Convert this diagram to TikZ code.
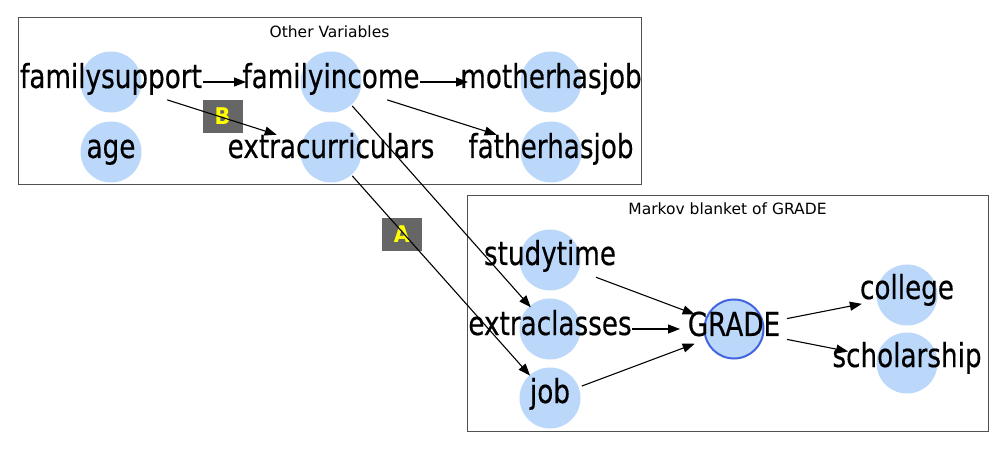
\documentclass[tikz,border=0pt]{standalone}
\usepackage{fontspec}
\usetikzlibrary{arrows.meta}
\newfontfamily\nodefont[FakeStretch=0.795,FakeBold=0.4]{DejaVu Sans}
\newfontfamily\titlefont{DejaVu Sans}
\newfontfamily\tagfont[FakeStretch=0.9]{DejaVu Sans}
\definecolor{nodeblue}{RGB}{187,216,251}
\definecolor{gradeedge}{RGB}{66,100,222}
\definecolor{boxgray}{RGB}{80,80,80}
\definecolor{tagfill}{RGB}{102,102,102}
\definecolor{tagtext}{RGB}{255,255,0}
\begin{document}
\begin{tikzpicture}[x=1pt,y=-1pt,
  bubble/.style={circle,fill=nodeblue,minimum size=61pt,inner sep=0pt},
  gradebubble/.style={bubble,draw=gradeedge,line width=2pt,minimum size=59pt},
  lab/.style={anchor=base,inner sep=0pt,font=\nodefont\fontsize{33}{33}\selectfont},
  groupbox/.style={draw=boxgray,line width=1.3pt},
  grouptitle/.style={anchor=base,inner sep=0pt,font=\titlefont\fontsize{15.5}{16}\selectfont},
  tag/.style={fill=tagfill,minimum width=40pt,minimum height=33pt,inner sep=0pt,text=tagtext,font=\tagfont\bfseries\fontsize{23}{23}\selectfont},
  edge/.style={draw=black,line width=1.1pt,-{Triangle[length=12pt,width=9pt]}}]
\useasboundingbox (0,0) rectangle (1005,449);
% group boxes
\node[groupbox,minimum width=623pt,minimum height=167pt,inner sep=0pt,anchor=north west] (boxtop) at (18,17) {};
\node[groupbox,minimum width=521pt,minimum height=236pt,inner sep=0pt,anchor=north west] (boxbot) at (467,195) {};
\node[grouptitle] (ttop) at (329.5,38) {Other Variables};
\node[grouptitle] (tbot) at (727.5,215) {Markov blanket of GRADE};
% circles
\node[bubble] (fsC) at (111,82) {};
\node[bubble] (agC) at (111,152) {};
\node[bubble] (fiC) at (331,82) {};
\node[bubble] (ecC) at (331,152) {};
\node[bubble] (mjC) at (551,82) {};
\node[bubble] (fjC) at (551,152) {};
\node[bubble] (stC) at (550,260) {};
\node[bubble] (xcC) at (550,329) {};
\node[bubble] (jbC) at (550,398) {};
\node[gradebubble] (grC) at (734,329) {};
\node[bubble] (coC) at (907,295) {};
\node[bubble] (scC) at (907,363) {};
% labels
\node[lab] (fs) at (111,88) {familysupport};
\node[lab] (ag) at (111,158) {age};
\node[lab] (fi) at (331,88) {familyincome};
\node[lab] (ec) at (331,158) {extracurriculars};
\node[lab] (mj) at (551,88) {motherhasjob};
\node[lab] (fj) at (551,158) {fatherhasjob};
\node[lab] (st) at (550,265) {studytime};
\node[lab] (xc) at (550,335) {extraclasses};
\node[lab] (jb) at (550,403) {job};
\node[lab] (gr) at (734,336) {GRADE};
\node[lab] (co) at (907,299) {college};
\node[lab] (sc) at (907,367) {scholarship};
% tags
\node[tag] (tagB) at (222.5,116.5) {B};
\node[tag] (tagA) at (402,234.5) {A};
% edges
\draw[edge,shorten <=92pt,shorten >=85pt] (fsC.center) -- (fiC.center);
\draw[edge,shorten <=59pt,shorten >=57pt] (fsC.center) -- (ecC.center);
\draw[edge,shorten <=89pt,shorten >=83pt] (fiC.center) -- (mjC.center);
\draw[edge,shorten <=59pt,shorten >=57pt] (fiC.center) -- (fjC.center);
\draw[edge,shorten <=32pt,shorten >=29pt] (fiC.center) -- (xcC.center);
\draw[edge,shorten <=32pt,shorten >=30pt] (ecC.center) -- (jbC.center);
\draw[edge,shorten <=49pt,shorten >=42pt] (stC.center) -- (grC.center);
\draw[edge,shorten <=82pt,shorten >=54pt] (xcC.center) -- (grC.center);
\draw[edge,shorten <=34pt,shorten >=42pt] (jbC.center) -- (grC.center);
\draw[edge,shorten <=54pt,shorten >=46pt] (grC.center) -- (coC.center);
\draw[edge,shorten <=54pt,shorten >=60pt] (grC.center) -- (scC.center);
\end{tikzpicture}
\end{document}
